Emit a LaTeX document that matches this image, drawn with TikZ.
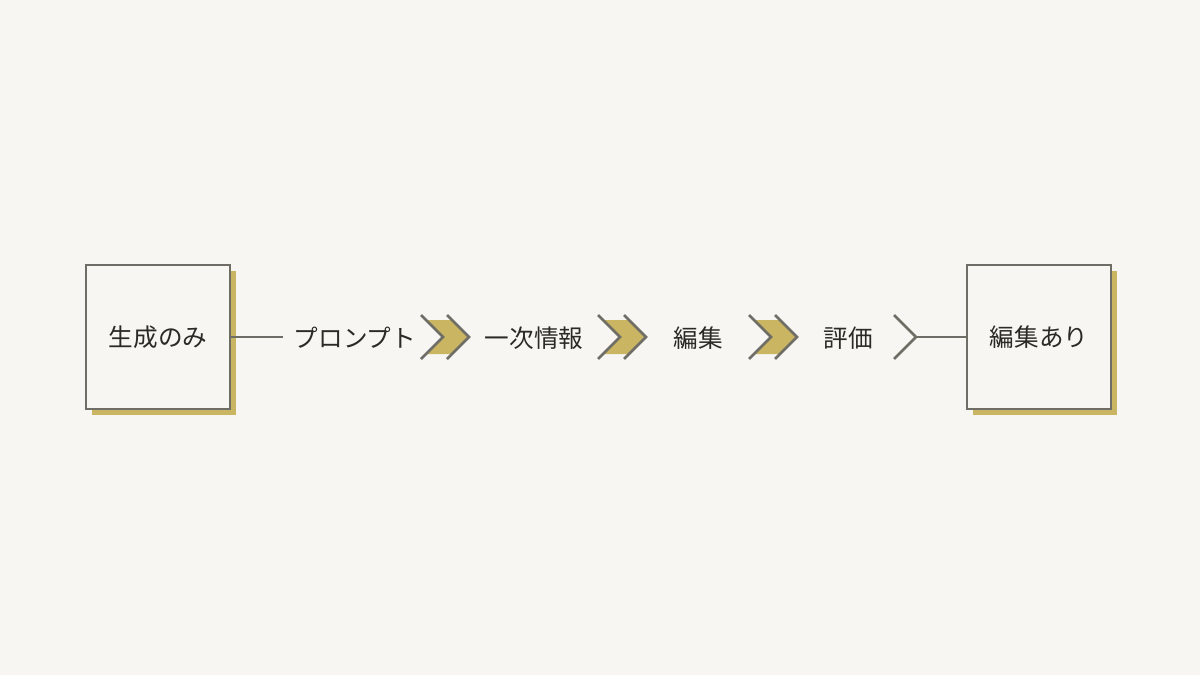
\documentclass[tikz,border=0pt]{standalone}
\usepackage{fontspec}
\setmainfont{Noto Sans CJK JP}
\definecolor{bg}{HTML}{F7F6F2}
\definecolor{ink}{HTML}{2B2A27}
\definecolor{edge}{HTML}{6F6E66}
\definecolor{gold}{HTML}{CAB662}
\tikzset{
  box/.style={draw=edge, line width=2.5pt, fill=bg, minimum width=144pt, minimum height=144pt, inner sep=0pt, font=\fontsize{24.6}{28}\selectfont, text=ink},
  lbl/.style={font=\fontsize{24.6}{28}\selectfont, text=ink, inner sep=0pt},
  conn/.style={draw=edge, line width=2pt},
  chev/.style={draw=edge, line width=2.5pt, line cap=butt, line join=miter},
}
\begin{document}
\begin{tikzpicture}[x=1pt,y=-1pt]
\useasboundingbox[fill=bg] (0,0) rectangle (1200,675);
% shadows
\fill[gold] (92,271) rectangle (236,415);
\fill[gold] (973,271) rectangle (1117,415);
\node[box] (a) at (158,337) {生成のみ};
\node[box] (b) at (1039,337) {編集あり};
\node[lbl] (t1) at (355,338) {プロンプト};
\node[lbl] (t2) at (534,338) {一次情報};
\node[lbl] (t3) at (698,338) {編集};
\node[lbl] (t4) at (848,338) {評価};
\coordinate (c1) at (283,337);
\coordinate (c2) at (916,337);
\draw[conn] (a.east) -- (c1);
\draw[conn] (c2) -- (b.west);
% chevrons
\foreach \x in {421,598,749}{
  \fill[gold] (\x+6,320) -- (\x+30,320) -- (\x+47,337) -- (\x+30,354) -- (\x+6,354) -- (\x+23,337) -- cycle;
  \draw[chev] (\x,315) -- (\x+22,337) -- (\x,359);
  \draw[chev] (\x+26,315) -- (\x+48,337) -- (\x+26,359);
}
\draw[chev] (894,315) -- (c2) -- (894,359);
\end{tikzpicture}
\end{document}
